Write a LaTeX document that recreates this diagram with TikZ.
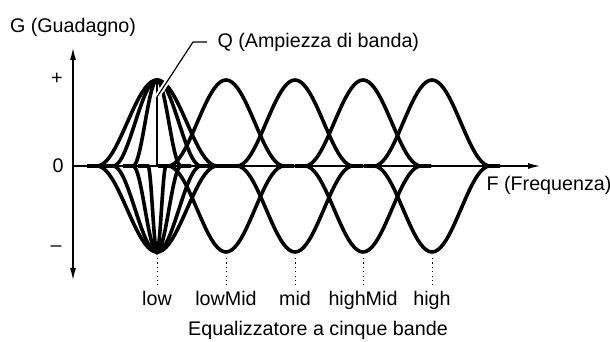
\documentclass[tikz,border=0pt]{standalone}
\usepackage{fontspec}
\setmainfont{Liberation Sans}
\usetikzlibrary{arrows.meta}

\begin{document}
\begin{tikzpicture}[x=0.5pt, y=0.5pt, line width=0.6pt,
    font=\fontsize{9.85}{12}\selectfont,
    band/.style={line width=1.8pt},
    freq/.style={anchor=base},
    tick/.style={line width=0.5pt, dash pattern=on 0.6pt off 1.6pt},
    halo/.style={preaction={draw=white, line width=2.6pt}}]
  \useasboundingbox (-73,-176) rectangle (537,166);
  \def\amp{86}\def\hw{58}\def\tl{10}
  % axes
  \coordinate (O) at (0,0);
  \coordinate (Gtop) at (0,118);
  \coordinate (Gbot) at (0,-114);
  \coordinate (Fend) at (467,0);
  \draw[{Latex[length=6pt,width=3pt]}-{Latex[length=6pt,width=3pt]}] (Gbot) -- (Gtop);
  \draw[-{Latex[length=6pt,width=3pt]}] (O) -- (Fend);
  \node[anchor=base] (G) at (0,133) {G (Guadagno)};
  \node[anchor=base west, inner sep=0pt] (F) at (413,-25) {F (Frequenza)};
  \node (plus) at (-16,87) {+};
  \node (zero) at (-15,0) {0};
  \node (minus) at (-17,-83) {–};
  % low band, different Q
  \foreach \w in {60,44,24} {
    \draw[band] (84-\w-\tl,0) -- plot[domain=-1:1, samples=41]
      ({84+\w*\x},{\amp*(1+cos(180*\x))/2}) -- (84+\w+\tl,0);
    \draw[band] (84-\w-\tl,0) -- plot[domain=-1:1, samples=41]
      ({84+\w*\x},{-\amp*(1+cos(180*\x))/2}) -- (84+\w+\tl,0);
  }
  \draw[band] (84-9-\tl,0) -- plot[domain=-1:1, samples=31]
    ({84+9*\x},{-\amp*(1+cos(180*\x))/2}) -- (84+9+\tl,0);
  \coordinate (lowpeak) at (84,\amp);
  \draw (lowpeak) -- (84,0);
  % other bands
  \foreach \c in {153,222,290,359} {
    \draw[band] (\c-\hw-\tl,0) -- plot[domain=-1:1, samples=41]
      ({\c+\hw*\x},{\amp*(1+cos(180*\x))/2}) -- (\c+\hw+\tl,0);
    \draw[band] (\c-\hw-\tl,0) -- plot[domain=-1:1, samples=41]
      ({\c+\hw*\x},{-\amp*(1+cos(180*\x))/2}) -- (\c+\hw+\tl,0);
  }
  % Q pointer
  \coordinate (qtip) at (84,69);
  \node[anchor=west, inner sep=5pt] (Q) at (134,124) {Q (Ampiezza di banda)};
  \draw[halo] (Q.west) -- ++(-14,0) -- (qtip);
  % band labels
  \foreach \c/\n/\t in {84/low/low, 153/lowmid/lowMid, 222/mid/mid,
                        290/highmid/highMid, 359/high/high} {
    \node[freq] (\n) at (\c,-140) {\t};
    \coordinate (\n-top) at (\c,-92);
    \draw[tick] (\n-top) -- (\n.north);
  }
  \node[anchor=base] (title) at (245,-169) {Equalizzatore a cinque bande};
\end{tikzpicture}
\end{document}
